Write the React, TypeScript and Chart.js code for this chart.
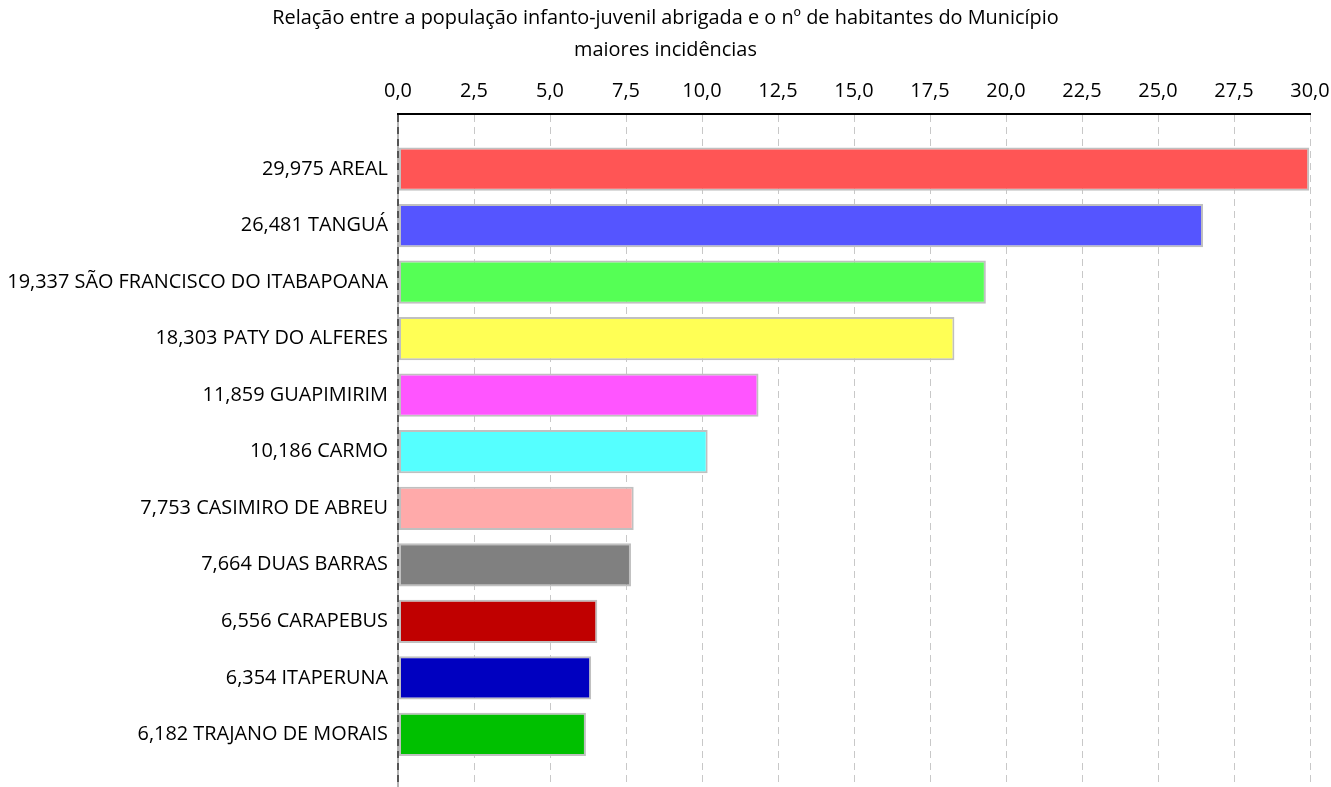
import React, { useEffect, useRef } from "react";
import { Chart, registerables } from "chart.js";

Chart.register(...registerables);

const titleLines = [
  "Relação entre a população infanto-juvenil abrigada e o nº de habitantes do Município",
  "maiores incidências",
];

const municipalities = [
  "AREAL",
  "TANGUÁ",
  "SÃO FRANCISCO DO ITABAPOANA",
  "PATY DO ALFERES",
  "GUAPIMIRIM",
  "CARMO",
  "CASIMIRO DE ABREU",
  "DUAS BARRAS",
  "CARAPEBUS",
  "ITAPERUNA",
  "TRAJANO DE MORAIS",
];

const valueLabels = [
  "29,975",
  "26,481",
  "19,337",
  "18,303",
  "11,859",
  "10,186",
  "7,753",
  "7,664",
  "6,556",
  "6,354",
  "6,182",
];

const values = [29.975, 26.481, 19.337, 18.303, 11.859, 10.186, 7.753, 7.664, 6.556, 6.354, 6.182];

const barColors = [
  "#ff5555",
  "#5555ff",
  "#55ff55",
  "#ffff55",
  "#ff55ff",
  "#55ffff",
  "#ffaaaa",
  "#808080",
  "#c00000",
  "#0000c0",
  "#00c000",
];

const xTicksMin = 0;
const xTicksMax = 30;
const xTickStep = 2.5;

const FONT = "'Open Sans', 'Noto Sans', sans-serif";
const FS = 19.9;

export default function App() {
  const canvasRef = useRef<HTMLCanvasElement | null>(null);

  useEffect(() => {
    const canvas = canvasRef.current;
    if (!canvas) return;
    const categoryLabels = municipalities.map((m, i) => `${valueLabels[i]} ${m}`);
    const chart = new Chart(canvas, {
      type: "bar",
      data: {
        datasets: [
          {
            data: values.map((v, i) => ({ x: v, y: i })),
            backgroundColor: barColors,
            borderColor: "#c0c0c0",
            borderWidth: 2,
            borderSkipped: false,
            barPercentage: 0.765,
            categoryPercentage: 1,
          },
        ],
      },
      options: {
        indexAxis: "y",
        animation: false,
        responsive: true,
        maintainAspectRatio: false,
        layout: { padding: 0 },
        plugins: {
          legend: { display: false },
          tooltip: { enabled: false },
          title: {
            display: true,
            text: titleLines,
            color: "#000",
            font: { family: FONT, size: FS, weight: "normal", lineHeight: 32 / FS },
            padding: { top: 2, bottom: 0 },
          },
        },
        scales: {
          y: {
            type: "linear",
            reverse: true,
            offset: false,
            min: -0.973,
            max: 10.93,
            afterBuildTicks: (scale: any) => {
              scale.ticks = municipalities.map((_, i) => ({ value: i }));
            },
            ticks: {
              color: "#000",
              padding: 10,
              font: { family: FONT, size: FS },
              autoSkip: false,
              callback: (v: any) => categoryLabels[Math.round(Number(v))] ?? "",
            },
            grid: { display: false, drawTicks: false },
            border: { display: true, color: "#b4b4b4", width: 2, z: -1 },
            afterFit: (scale: any) => {
              scale.width = 398;
              scale.paddingTop = 0;
              scale.paddingBottom = 0;
            },
          },
          x: {
            type: "linear",
            position: "top",
            min: xTicksMin,
            max: xTicksMax,
            ticks: {
              stepSize: xTickStep,
              color: "#000",
              padding: 11,
              font: { family: FONT, size: FS },
              callback: (v: any) => Number(v).toFixed(1).replace(".", ","),
            },
            grid: {
              drawTicks: false,
              color: (ctx: any) => (ctx.tick && ctx.tick.value === 0 ? "#555" : "#c8c8c8"),
              lineWidth: (ctx: any) => (ctx.tick && ctx.tick.value === 0 ? 2 : 1),
            },
            border: { display: true, color: "#000", width: 2, dash: [7, 5] },
            afterFit: (scale: any) => {
              scale.height = 48;
              scale.paddingRight = 21;
              scale.paddingLeft = 0;
            },
          },
        },
      },
    });
    return () => chart.destroy();
  }, []);

  return (
    <div style={{ position: "absolute", left: 0, top: 0, width: 1331, height: 787, background: "#fff" }}>
      <canvas ref={canvasRef} />
    </div>
  );
}
